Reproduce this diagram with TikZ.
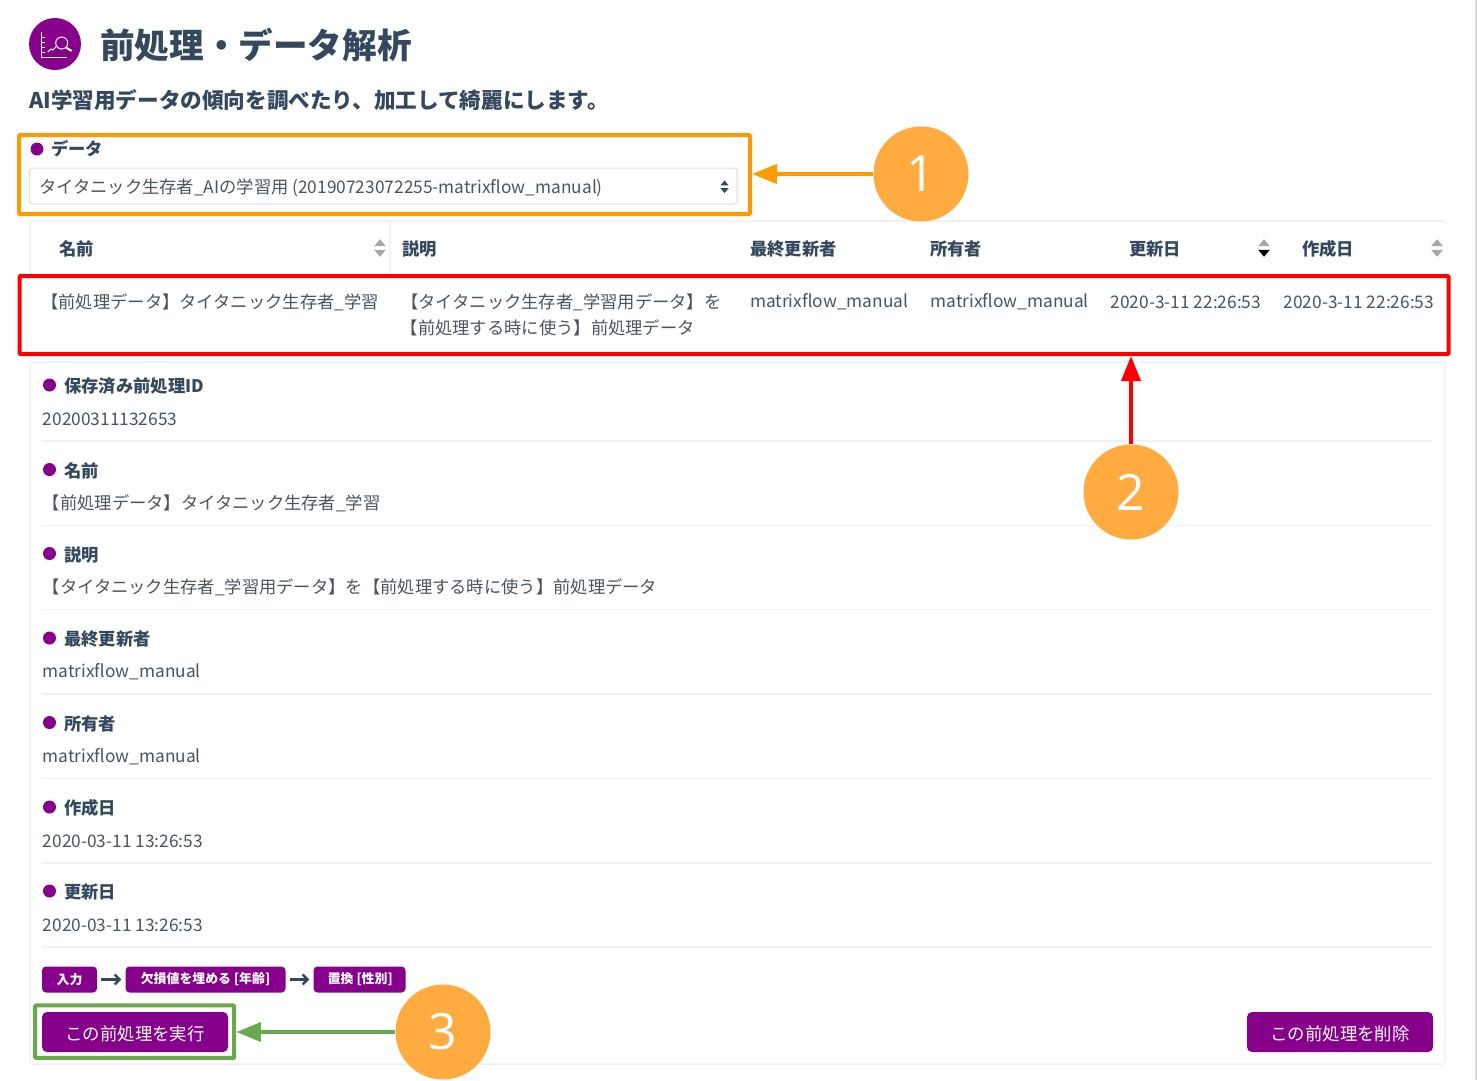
\documentclass[tikz,border=0pt]{standalone}
\usepackage{fontspec}
\setmainfont{Noto Sans CJK JP}
\newfontfamily\callfont{Open Sans}
\usetikzlibrary{arrows.meta,shapes.geometric}
\definecolor{brandpurple}{HTML}{87008C}
\definecolor{inktext}{HTML}{34495E}
\definecolor{bodytext}{HTML}{4A5560}
\definecolor{hairline}{HTML}{EFF2F2}
\definecolor{calloutfill}{HTML}{FFAB40}
\definecolor{calloutorange}{HTML}{FF9900}
\definecolor{calloutgreen}{HTML}{6AA84F}
\newcommand{\sz}[1]{\fontsize{#1}{#1}\selectfont}
\tikzset{
	txt/.style={inner sep=0pt, anchor=west, text=bodytext, font=\sz{17.3}},
	headtxt/.style={inner sep=0pt, anchor=west, text=inktext, font=\sz{17.3}\bfseries},
	dot/.style={circle, fill=brandpurple, minimum size=13pt, inner sep=0pt},
	callout/.style={circle, fill=calloutfill, minimum size=95pt, inner sep=0pt, text=white, font=\callfont\sz{50}},
	stepbox/.style={rounded corners=4pt, fill=brandpurple, text=white, inner sep=0pt, minimum height=26pt, font=\sz{12.9}\bfseries},
	btn/.style={rounded corners=5pt, fill=brandpurple, text=white, inner sep=0pt, minimum height=40pt, text height=18pt, text depth=2pt, font=\sz{17.4}},
	sortup/.style={isosceles triangle, isosceles triangle apex angle=80, shape border rotate=90, fill=#1, inner sep=0pt, minimum size=7pt},
	sortdown/.style={isosceles triangle, isosceles triangle apex angle=80, shape border rotate=-90, fill=#1, inner sep=0pt, minimum size=7pt},
	flowarrow/.style={-{Straight Barb[length=5pt,width=10pt]}, line width=2.4pt, draw=inktext},
	calloutline/.style={line width=4pt, draw=#1, -{Triangle[length=25pt,width=19pt]}},
}

\begin{document}
\begin{tikzpicture}[x=1pt, y=-1pt]
	\useasboundingbox (0,0) rectangle (1477,1080);
	\fill[white] (0,0) rectangle (1477,1080);
	\fill[black!15] (1474.5,0) rectangle (1477,1080);
	
	%%%%% title %%%%%
	\fill[brandpurple] (55,44) circle (26);
	\draw[white, line width=1pt] (41.7,32) -- (41.7,57) -- (67,57);
	\foreach \y in {37,42,47,52}
		\draw[white, line width=0.8pt] (41.7,\y) -- (44.5,\y);
	\draw[white, line width=1pt] (47.7,52) -- (51,49) -- (53,50) -- (56,46.7);
	\draw[white, line width=1pt] (61.7,43) circle (6);
	\draw[white, line width=2pt] (66,47.5) -- (71.7,51);
	\node[inner sep=0pt, anchor=west, text=inktext, font=\sz{34.6}\bfseries] (title) at (100,45.5) {前処理・データ解析};
	\node[inner sep=0pt, anchor=west, text=inktext, font=\sz{21.6}\bfseries] (subtitle) at (29,100.5) {AI学習用データの傾向を調べたり、加工して綺麗にします。};
	
	%%%%% data select %%%%%
	\node[dot] (datadot) at (37,149) {};
	\node[headtxt] (datalabel) at (51,149) {データ};
	\draw[rounded corners=3pt, draw=black!12, line width=1pt] (29.5,168) rectangle (737,204);
	\node[txt] (dataselect) at (39,187.5) {タイタニック生存者\_AIの学習用 (20190723072255-matrixflow\_manual)};
	\node[sortup=inktext, minimum size=5pt] (selectup) at (724.5,183.5) {};
	\node[sortdown=inktext, minimum size=5pt] (selectdown) at (724.5,190) {};
	
	%%%%% table %%%%%
	\draw[hairline, line width=1.5pt] (30,221) -- (1445,221);
	\draw[hairline, line width=1.5pt] (30,221) -- (30,274);
	\draw[hairline, line width=1.5pt] (390,221) -- (390,274);
	\node[headtxt] (thname) at (59,249) {名前};
	\node[headtxt] (thdesc) at (402,249) {説明};
	\node[headtxt] (thuser) at (750,249) {最終更新者};
	\node[headtxt] (thowner) at (930,249) {所有者};
	\node[headtxt] (thupdated) at (1129,249) {更新日};
	\node[headtxt] (thcreated) at (1302,249) {作成日};
	\foreach \x/\c in {380/black!35, 1264/black!35, 1437/black!35}
		\node[sortup=\c] at (\x,243.5) {};
	\foreach \x/\c in {380/black!35, 1264/black, 1437/black!35}
		\node[sortdown=\c] at (\x,252.5) {};
	\node[txt] (tdname) at (41,302) {【前処理データ】タイタニック生存者\_学習};
	\node[txt] (tddescone) at (401,302) {【タイタニック生存者\_学習用データ】を};
	\node[txt] (tddesctwo) at (400.5,328) {【前処理する時に使う】前処理データ};
	\node[txt] (tduser) at (750,302) {matrixflow\_manual};
	\node[txt] (tdowner) at (930.5,302) {matrixflow\_manual};
	\node[txt] (tdupdated) at (1110.5,302) {2020-3-11 22:26:53};
	\node[txt] (tdcreated) at (1283.5,302) {2020-3-11 22:26:53};
	
	%%%%% details %%%%%
	\draw[rounded corners=2pt, hairline, line width=1.5pt] (30,362) rectangle (1445,1064);
	\foreach \i/\y/\lab/\val in {
		a/385/保存済み前処理ID/20200311132653,
		b/469.5/名前/【前処理データ】タイタニック生存者\_学習,
		c/553.5/説明/【タイタニック生存者\_学習用データ】を【前処理する時に使う】前処理データ,
		d/638/最終更新者/matrixflow\_manual,
		e/722.5/所有者/matrixflow\_manual,
		f/807/作成日/2020-03-11 13:26:53,
		g/891/更新日/2020-03-11 13:26:53}{
		\node[dot] (dot\i) at (49.5,\y) {};
		\node[headtxt] (lab\i) at (64,\y+1) {\lab};
		\node[txt] (val\i) at (42.6,\y+34) {\val};
		\draw[hairline, line width=1.2pt] (42,\y+56) -- (1432,\y+56);
	}
	
	%%%%% steps %%%%%
	\node[stepbox, minimum width=55pt] (stepinput) at (69.5,979.5) {入力};
	\node[stepbox, minimum width=160pt] (stepfill) at (205.5,979.5) {欠損値を埋める [年齢]};
	\node[stepbox, minimum width=92pt] (stepreplace) at (359.5,979.5) {\hspace{1.5pt}置換 [性別]};
	\draw[flowarrow] ([xshift=4pt]stepinput.east) -- ([xshift=-4pt]stepfill.west);
	\draw[flowarrow] ([xshift=4pt]stepfill.east) -- ([xshift=-4pt]stepreplace.west);
	
	%%%%% buttons %%%%%
	\node[btn, minimum width=186pt] (runbtn) at (135,1032) {この前処理を実行};
	\node[btn, minimum width=186pt] (deletebtn) at (1340,1032) {この前処理を削除};
	
	%%%%% callouts %%%%%
	\node[rounded corners=1pt, draw=calloutorange, line width=4pt, inner sep=0pt, minimum width=731pt, minimum height=79pt] (databox) at (384.5,174.5) {};
	\node[rounded corners=1pt, draw=red, line width=4pt, inner sep=0pt, minimum width=1429pt, minimum height=78pt] (rowbox) at (734,315) {};
	\node[rounded corners=1pt, draw=calloutgreen, line width=4pt, inner sep=0pt, minimum width=199pt, minimum height=52.5pt] (runbox) at (134.7,1031.7) {};
	\node[callout] (one) at (921,174) {1};
	\node[callout] (two) at (1131,492) {2};
	\node[callout] (three) at (443,1032) {3};
	\draw[calloutline=calloutorange] (one) -- (one-|databox.east);
	\draw[calloutline=red] (two) -- (two|-rowbox.south);
	\draw[calloutline=calloutgreen] (three) -- (three-|runbox.east);
\end{tikzpicture}
\end{document}
